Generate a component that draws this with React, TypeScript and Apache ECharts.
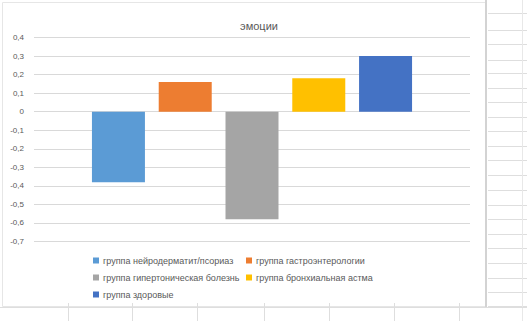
import React, { useEffect, useRef } from "react";
import * as echarts from "echarts";

const seriesNames = [
  "группа нейродерматит/псориаз",
  "группа гастроэнтерологии",
  "группа гипертоническая болезнь",
  "группа бронхиальная астма",
  "группа здоровые",
];
const seriesValues = [-0.38, 0.16, -0.58, 0.18, 0.3];
const seriesColors = ["#5B9BD5", "#ED7D31", "#A5A5A5", "#FFC000", "#4472C4"];
const categories = [""];
const titleText = "эмоции";
const yMin = -0.7;
const yMax = 0.4;
const yStep = 0.1;

const rightRowLines = [13, 30, 44, 60, 73, 88, 102, 117, 131, 146, 160, 175, 190, 205, 219, 234, 248, 263, 278, 292, 306];
const bottomColLines = [68, 132, 197, 264, 329, 394, 459];

export default function App() {
  const ref = useRef<HTMLDivElement>(null);
  useEffect(() => {
    document.body.style.margin = "0";
    const chart = echarts.init(ref.current!, null, { renderer: "svg" });
    const gridColor = "#d9d9d9";
    const sheetColor = "#dedede";
    const graphics: any[] = [];
    graphics.push({
      type: "rect",
      shape: { x: 2.5, y: 2.5, width: 483, height: 304 },
      style: { fill: "none", stroke: "#e6e6e6", lineWidth: 1 },
      z: -10,
    });
    graphics.push({
      type: "line",
      shape: { x1: 486, y1: 0, x2: 486, y2: 307 },
      style: { stroke: "#d3d3d3", lineWidth: 2 },
      z: -10,
    });
    rightRowLines.forEach((y) =>
      graphics.push({
        type: "line",
        shape: { x1: 488, y1: y + 0.5, x2: 527, y2: y + 0.5 },
        style: { stroke: sheetColor, lineWidth: 1 },
        z: -10,
      })
    );
    graphics.push({
      type: "line",
      shape: { x1: 522.5, y1: 0, x2: 522.5, y2: 321 },
      style: { stroke: "#e8e8e8", lineWidth: 1 },
      z: -10,
    });
    graphics.push({
      type: "line",
      shape: { x1: 0, y1: 307.5, x2: 527, y2: 307.5 },
      style: { stroke: sheetColor, lineWidth: 1 },
      z: -10,
    });
    bottomColLines.forEach((x) =>
      graphics.push({
        type: "line",
        shape: { x1: x + 0.5, y1: 303, x2: x + 0.5, y2: 321 },
        style: { stroke: sheetColor, lineWidth: 1 },
        z: -10,
      })
    );

    const legendBase = {
      itemWidth: 6,
      itemHeight: 6,
      itemGap: 6,
      icon: "rect",
      textStyle: { color: "#595959", fontSize: 9, fontFamily: "Liberation Sans", padding: [0, 0, 0, -1] },
      orient: "horizontal" as const,
      padding: 0,
    };
    const legendPos = [
      [93, 256],
      [246, 256],
      [93, 273],
      [246, 273],
      [93, 290],
    ];

    chart.setOption({
      animation: false,
      backgroundColor: "#ffffff",
      title: {
        text: titleText,
        left: 254,
        textAlign: "center",
        top: 15,
        textStyle: { color: "#595959", fontSize: 11, fontWeight: "normal", fontFamily: "Liberation Sans" },
      },
      legend: seriesNames.map((n, i) => ({
        ...legendBase,
        data: [n],
        left: legendPos[i][0],
        top: legendPos[i][1],
      })),
      grid: { left: 34, top: 37.5, width: 436, height: 204, containLabel: false },
      xAxis: {
        type: "category",
        data: categories,
        axisLine: { show: false },
        axisTick: { show: false },
        axisLabel: { show: false },
      },
      yAxis: {
        type: "value",
        min: yMin,
        max: yMax,
        interval: yStep,
        axisLine: { show: false },
        axisTick: { show: false },
        splitLine: { lineStyle: { color: gridColor, width: 1 } },
        axisLabel: {
          color: "#595959",
          fontSize: 8,
          fontFamily: "Liberation Sans",
          margin: 10,
          formatter: (v: number) => {
            const r = Math.round(v * 10) / 10;
            if (r === 0) return "0";
            return r.toFixed(1).replace(".", ",");
          },
        },
      },
      series: seriesNames.map((name, i) => ({
        name,
        type: "bar",
        data: [seriesValues[i]],
        barWidth: 53,
        barGap: "26%",
        itemStyle: { color: seriesColors[i] },
      })),
      graphic: graphics,
    });
    return () => chart.dispose();
  }, []);
  return (
    <div
      ref={ref}
      style={{ position: "fixed", left: 0, top: 0, width: 527, height: 321, background: "#fff" }}
    />
  );
}
